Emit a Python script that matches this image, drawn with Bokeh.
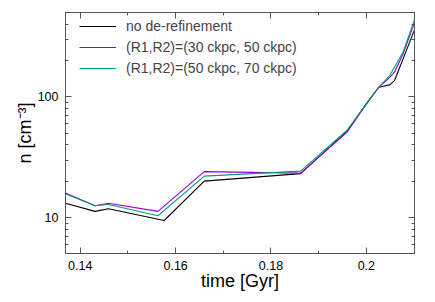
from bokeh.plotting import figure
from bokeh.models import LinearAxis, LogAxis, FixedTicker, Legend, LegendItem, BasicTickFormatter
from bokeh.embed import file_html
from bokeh.resources import INLINE

# data
t_none = [0.1369, 0.1431, 0.1459, 0.1576, 0.1660, 0.1862, 0.1959, 0.2000, 0.2026, 0.2049, 0.2059, 0.2077, 0.2101]
n_none = [13.2, 11.3, 11.9, 9.5, 20.1, 23.2, 51.5, 87.5, 120, 125.6, 136, 206, 358]
t_30_50 = [0.1369, 0.1431, 0.1459, 0.1563, 0.1660, 0.1862, 0.1959, 0.2000, 0.2026, 0.2049, 0.2059, 0.2077, 0.2101]
n_30_50 = [16.0, 12.6, 13.2, 11.3, 24.1, 23.4, 50.9, 87.5, 120, 145, 160, 226, 411]
t_50_70 = [0.1369, 0.1431, 0.1459, 0.1563, 0.1660, 0.1862, 0.1959, 0.2000, 0.2026, 0.2049, 0.2077, 0.2101]
n_50_70 = [15.8, 12.6, 12.9, 10.4, 22.1, 24.3, 52.7, 87.5, 120, 150, 234, 432]
labels = ["no de-refinement", "(R1,R2)=(30 ckpc, 50 ckpc)", "(R1,R2)=(50 ckpc, 70 ckpc)"]
colors = ["black", "#9400d3", "#009e73"]
x_major = [0.14, 0.16, 0.18, 0.2]
x_minor = [0.13, 0.15, 0.17, 0.19, 0.21]
y_major = [10, 100]
y_minor = [6, 7, 8, 9, 20, 30, 40, 50, 60, 70, 80, 90, 200, 300, 400]

FONT = "Liberation Sans"
AX = "#555555"

p = figure(frame_width=349, frame_height=241, y_axis_type="log",
           x_range=(0.1369, 0.2101), y_range=(5.07, 498),
           output_backend="svg", toolbar_location=None,
           min_border_left=65, min_border_top=12, min_border_right=2, min_border_bottom=32)
p.grid.visible = False
p.outline_line_color = AX
p.background_fill_color = "white"

bottom = p.below[0]
left = p.left[0]

r1 = p.line(t_none, n_none, line_color=colors[0], line_width=1.1)
r2 = p.line(t_30_50, n_30_50, line_color=colors[1], line_width=1.1)
r3 = p.line(t_50_70, n_50_70, line_color=colors[2], line_width=1.1)

xt = FixedTicker(ticks=x_major, minor_ticks=x_minor)
yt = FixedTicker(ticks=y_major, minor_ticks=y_minor)

bottom.ticker = xt
bottom.major_label_overrides = {0.14: "0.14", 0.16: "0.16", 0.18: "0.18", 0.2: "0.2"}
left.ticker = yt
left.formatter = BasicTickFormatter()
bottom.axis_label = "time [Gyr]"
left.axis_label = "n [cm⁻³]"

top = LinearAxis(ticker=xt, formatter=BasicTickFormatter())
right = LogAxis(ticker=yt, formatter=BasicTickFormatter())
p.add_layout(top, "above")
p.add_layout(right, "right")

for ax in [bottom, left, top, right]:
    ax.axis_line_color = AX
    ax.major_tick_line_color = AX
    ax.minor_tick_line_color = AX
    ax.major_tick_in = 6
    ax.major_tick_out = 0
    ax.minor_tick_in = 3
    ax.minor_tick_out = 0
    ax.major_label_text_font = FONT
    ax.major_label_text_font_size = "12.5px"
    ax.major_label_text_color = "black"
    ax.axis_label_text_font = FONT
    ax.axis_label_text_font_size = "18px"
    ax.axis_label_text_font_style = "normal"
    ax.axis_label_text_color = "black"

for ax in [top, right]:
    ax.major_label_text_font_size = "0px"
    ax.major_label_standoff = 0

bottom.major_label_standoff = 7
bottom.axis_label_standoff = -2
left.major_label_standoff = 7
left.axis_label_standoff = 0

legend = Legend(items=[LegendItem(label=labels[0], renderers=[r1]),
                       LegendItem(label=labels[1], renderers=[r2]),
                       LegendItem(label=labels[2], renderers=[r3])],
                location=(14, 177))
legend.margin = 0
legend.padding = 0
legend.spacing = 5
legend.glyph_width = 37
legend.glyph_height = 14
legend.label_height = 14
legend.label_standoff = 10
legend.label_text_font = FONT
legend.label_text_font_size = "14px"
legend.border_line_color = None
legend.background_fill_alpha = 0
p.add_layout(legend)

open("out.html", "w").write(file_html(p, INLINE))
